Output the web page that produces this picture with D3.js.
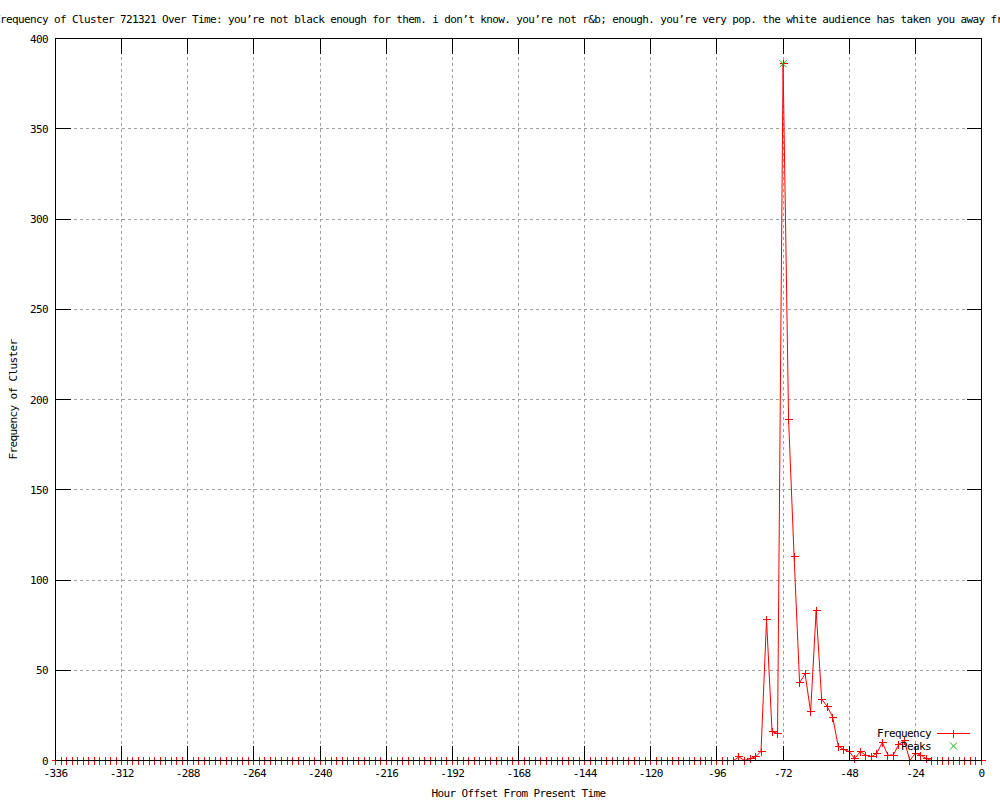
<!DOCTYPE html>
<html>
<head>
<meta charset="utf-8">
<script src="https://cdn.jsdelivr.net/npm/d3@7"></script>
<style>
body { margin: 0; background: #fff; }
svg { display: block; }
text { font-family: "DejaVu Sans Mono", "Liberation Mono", monospace; font-size: 11px; letter-spacing: -0.62px; fill: #000; }
</style>
</head>
<body>
<svg id="chart" width="1000" height="800"></svg>
<script>
const titleText = "Frequency of Cluster 721321 Over Time: you’re not black enough for them. i don’t know. you’re not r&b; enough. you’re very pop. the white audience has taken you away fr";

// hours before present, one sample every 2 hours
const hours = d3.range(-336, 1, 2);
const frequency = [
    0, 0, 0, 0, 0, 0, 0, 0, 0, 0, 0, 0, 0, 0, 0, 0, 0, 0, 0, 0,
    0, 0, 0, 0, 0, 0, 0, 0, 0, 0, 0, 0, 0, 0, 0, 0, 0, 0, 0, 0,
    0, 0, 0, 0, 0, 0, 0, 0, 0, 0, 0, 0, 0, 0, 0, 0, 0, 0, 0, 0,
    0, 0, 0, 0, 0, 0, 0, 0, 0, 0, 0, 0, 0, 0, 0, 0, 0, 0, 0, 0,
    0, 0, 0, 0, 0, 0, 0, 0, 0, 0, 0, 0, 0, 0, 0, 0, 0, 0, 0, 0,
    0, 0, 0, 0, 0, 0, 0, 0, 0, 0, 0, 0, 0, 0, 0, 0, 0, 0, 0, 0,
    0, 0, 0, 0,
    2, 0, 1, 2, 5, 78, 16, 15, 386, 189, 113, 43, 48, 27, 83, 34, 30, 24,
    8, 6, 5, 1, 5, 3, 2, 4, 10, 3, 3, 9, 11, 0, 4, 3, 1,
    0, 0, 0, 0, 0, 0, 0, 0, 0, 0
];
const peakHours = [-72];
const peakValues = [386];

const xTicks = [-336, -312, -288, -264, -240, -216, -192, -168, -144, -120, -96, -72, -48, -24, 0];
const yTicks = [0, 50, 100, 150, 200, 250, 300, 350, 400];

const plotLeft = 55.5, plotRight = 981.5, plotTop = 38.5, plotBottom = 760.5;
const tickLen = 15;

var svg = d3.select("#chart");

var x = d3.scaleLinear().domain([-336, 0]).range([plotLeft, plotRight]);
var y = d3.scaleLinear().domain([0, 400]).range([plotBottom, plotTop]);

var points = hours.map(function(h, i) { return { h: h, v: frequency[i] }; });
var peaks = peakHours.map(function(h, i) { return { h: h, v: peakValues[i] }; });

const snap = function(v) { return Math.round(v - 0.5) + 0.5; };

// grid
var grid = svg.append("g")
    .attr("stroke", "#a0a0a0")
    .attr("stroke-dasharray", "3,3")
    .attr("shape-rendering", "crispEdges");

grid.selectAll(".gx")
    .data(xTicks.slice(1, -1))
    .enter()
    .append("line")
    .attr("x1", function(d) { return snap(x(d)); })
    .attr("x2", function(d) { return snap(x(d)); })
    .attr("y1", plotTop)
    .attr("y2", plotBottom);

grid.selectAll(".gy")
    .data(yTicks.slice(1, -1))
    .enter()
    .append("line")
    .attr("x1", plotLeft)
    .attr("x2", plotRight)
    .attr("y1", function(d) { return snap(y(d)); })
    .attr("y2", function(d) { return snap(y(d)); });

// frequency line
var line = d3.line()
    .x(function(d) { return x(d.h); })
    .y(function(d) { return y(d.v); });

svg.append("path")
    .datum(points)
    .attr("d", line)
    .attr("fill", "none")
    .attr("stroke", "#ff0000")
    .attr("stroke-width", 1);

const plusPath = function(cx, cy) {
    cx = snap(cx);
    cy = snap(cy);
    return "M" + (cx - 4) + "," + cy + "h8M" + cx + "," + (cy - 4) + "v8";
};
const crossPath = function(cx, cy) {
    return "M" + (cx - 3.5) + "," + (cy - 3.5) + "l7,7M" + (cx - 3.5) + "," + (cy + 3.5) + "l7,-7";
};

svg.append("g")
    .selectAll("path")
    .data(points)
    .enter()
    .append("path")
    .attr("d", function(d) { return plusPath(x(d.h), y(d.v)); })
    .attr("stroke", "#ff0000")
    .attr("fill", "none")
    .attr("shape-rendering", "crispEdges");

svg.append("g")
    .selectAll("path")
    .data(peaks)
    .enter()
    .append("path")
    .attr("d", function(d) { return crossPath(x(d.h), y(d.v)); })
    .attr("stroke", "#00c000")
    .attr("fill", "none");

// border and ticks (drawn in front)
var frame = svg.append("g")
    .attr("stroke", "#000")
    .attr("shape-rendering", "crispEdges");

frame.append("rect")
    .attr("x", plotLeft)
    .attr("y", plotTop)
    .attr("width", plotRight - plotLeft)
    .attr("height", plotBottom - plotTop)
    .attr("fill", "none");

xTicks.forEach(function(t) {
    var px = snap(x(t));
    frame.append("line").attr("x1", px).attr("x2", px).attr("y1", plotBottom).attr("y2", plotBottom - tickLen);
    frame.append("line").attr("x1", px).attr("x2", px).attr("y1", plotTop).attr("y2", plotTop + tickLen);
});
yTicks.forEach(function(t) {
    var py = snap(y(t));
    frame.append("line").attr("x1", plotLeft).attr("x2", plotLeft + tickLen).attr("y1", py).attr("y2", py);
    frame.append("line").attr("x1", plotRight).attr("x2", plotRight - tickLen).attr("y1", py).attr("y2", py);
});

// tick labels
svg.append("g")
    .selectAll("text")
    .data(xTicks)
    .enter()
    .append("text")
    .attr("x", function(d) { return x(d); })
    .attr("y", 777)
    .attr("text-anchor", "middle")
    .text(function(d) { return d; });

svg.append("g")
    .selectAll("text")
    .data(yTicks)
    .enter()
    .append("text")
    .attr("x", 48)
    .attr("y", function(d) { return y(d) + 4; })
    .attr("text-anchor", "end")
    .text(function(d) { return d; });

// titles
svg.append("text")
    .attr("x", -6)
    .attr("y", 23)
    .text(titleText);

svg.append("text")
    .attr("x", (plotLeft + plotRight) / 2)
    .attr("y", 797)
    .attr("text-anchor", "middle")
    .text("Hour Offset From Present Time");

svg.append("text")
    .attr("transform", "translate(17," + ((plotTop + plotBottom) / 2) + ") rotate(-90)")
    .attr("text-anchor", "middle")
    .text("Frequency of Cluster");

// legend
var legend = svg.append("g");
legend.append("text").attr("x", 931).attr("y", 737).attr("text-anchor", "end").text("Frequency");
legend.append("line")
    .attr("x1", 937).attr("x2", 970).attr("y1", 733.5).attr("y2", 733.5)
    .style("stroke", "#ff0000").style("stroke-width", 1).attr("shape-rendering", "crispEdges");
legend.append("path").attr("d", plusPath(953.5, 733.5))
    .style("stroke", "#ff0000").style("fill", "none").attr("shape-rendering", "crispEdges");
legend.append("text").attr("x", 931).attr("y", 750).attr("text-anchor", "end").text("Peaks");
legend.append("path").attr("d", crossPath(953.5, 746)).style("stroke", "#00c000").style("fill", "none");
</script>
</body>
</html>
